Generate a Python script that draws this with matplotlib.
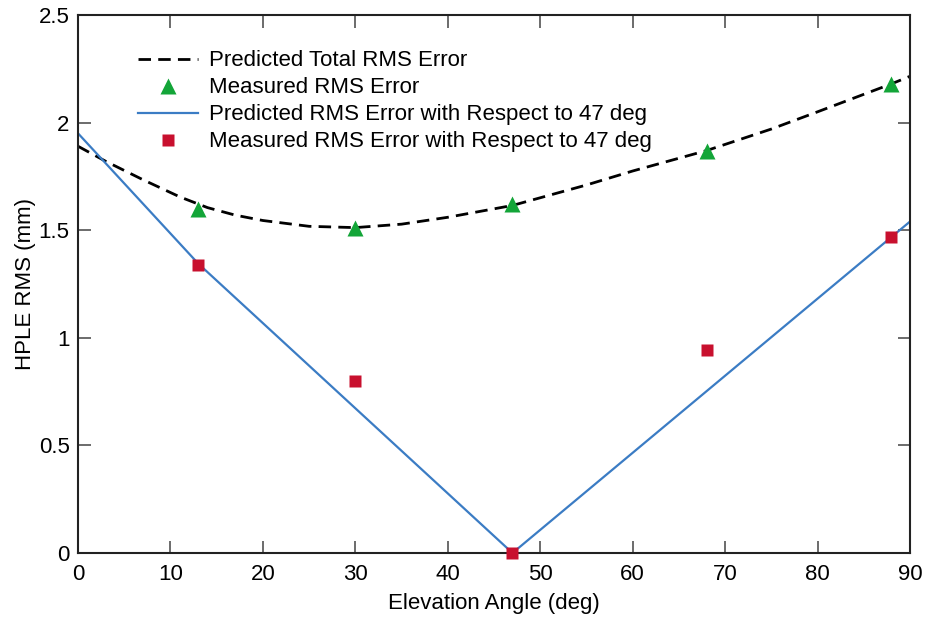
import matplotlib
matplotlib.use("Agg")
import matplotlib.pyplot as plt

plt.rcParams['font.family'] = ['Liberation Sans', 'DejaVu Sans']

# Predicted total RMS error curve (deg, mm)
total_x = [0, 3, 7, 11, 14, 17, 20, 25, 30, 35, 40, 47, 55, 60, 68, 75, 80, 88, 90]
total_y = [1.89, 1.82, 1.735, 1.655, 1.605, 1.57, 1.545, 1.518, 1.512, 1.528,
           1.56, 1.615, 1.71, 1.775, 1.87, 1.97, 2.05, 2.18, 2.215]

# Measured RMS error
meas_x = [13, 30, 47, 68, 88]
meas_y = [1.60, 1.51, 1.62, 1.87, 2.18]

# Predicted RMS error relative to 47 deg
rel_pred_x = [0, 13, 47, 90]
rel_pred_y = [1.95, 1.345, 0.0, 1.54]

# Measured RMS error relative to 47 deg
rel_meas_x = [13, 30, 47, 68, 88]
rel_meas_y = [1.34, 0.80, 0.0, 0.945, 1.47]

x_ticks = [0, 10, 20, 30, 40, 50, 60, 70, 80, 90]
y_ticks = [0, 0.5, 1, 1.5, 2, 2.5]
y_tick_labels = ['0', '0.5', '1', '1.5', '2', '2.5']

fig = plt.figure(figsize=(9.29, 6.19), dpi=100)
ax = fig.add_axes([0.084, 0.1066, 0.8955, 0.8692])

ax.plot(total_x, total_y, color='black', lw=2.0, ls=(0, (4.5, 2.6)),
        label='Predicted Total RMS Error')
ax.plot(meas_x, meas_y, ls='none', marker='^', ms=12, color='#13a538',
        mec='none', clip_on=False, label='Measured RMS Error')
ax.plot(rel_pred_x, rel_pred_y, color='#3b7cc4', lw=1.6,
        label='Predicted RMS Error with Respect to 47 deg')
ax.plot(rel_meas_x, rel_meas_y, ls='none', marker='s', ms=9, color='#c8102e',
        mec='none', clip_on=False, zorder=5,
        label='Measured RMS Error with Respect to 47 deg')

ax.set_xlim(0, 90)
ax.set_ylim(0, 2.5)
ax.set_xticks(x_ticks)
ax.set_yticks(y_ticks)
ax.set_yticklabels(y_tick_labels)

ax.tick_params(direction='in', length=9, width=1.1, color='#444444',
               top=True, right=True, labelsize=16, labelcolor='black')
ax.tick_params(axis='x', pad=8)
ax.tick_params(axis='y', pad=6)
for sp in ax.spines.values():
    sp.set_linewidth(1.5)
    sp.set_color('#222222')

ax.set_xlabel('Elevation Angle (deg)', fontsize=16, labelpad=6)
ax.set_ylabel('HPLE RMS (mm)', fontsize=16, labelpad=2)

ax.legend(loc='upper left', bbox_to_anchor=(0.072, 0.934), frameon=False,
          fontsize=16, handlelength=2.7, handletextpad=0.5,
          labelspacing=0.27, borderpad=0, borderaxespad=0)

fig.savefig('out.png', dpi=100)
